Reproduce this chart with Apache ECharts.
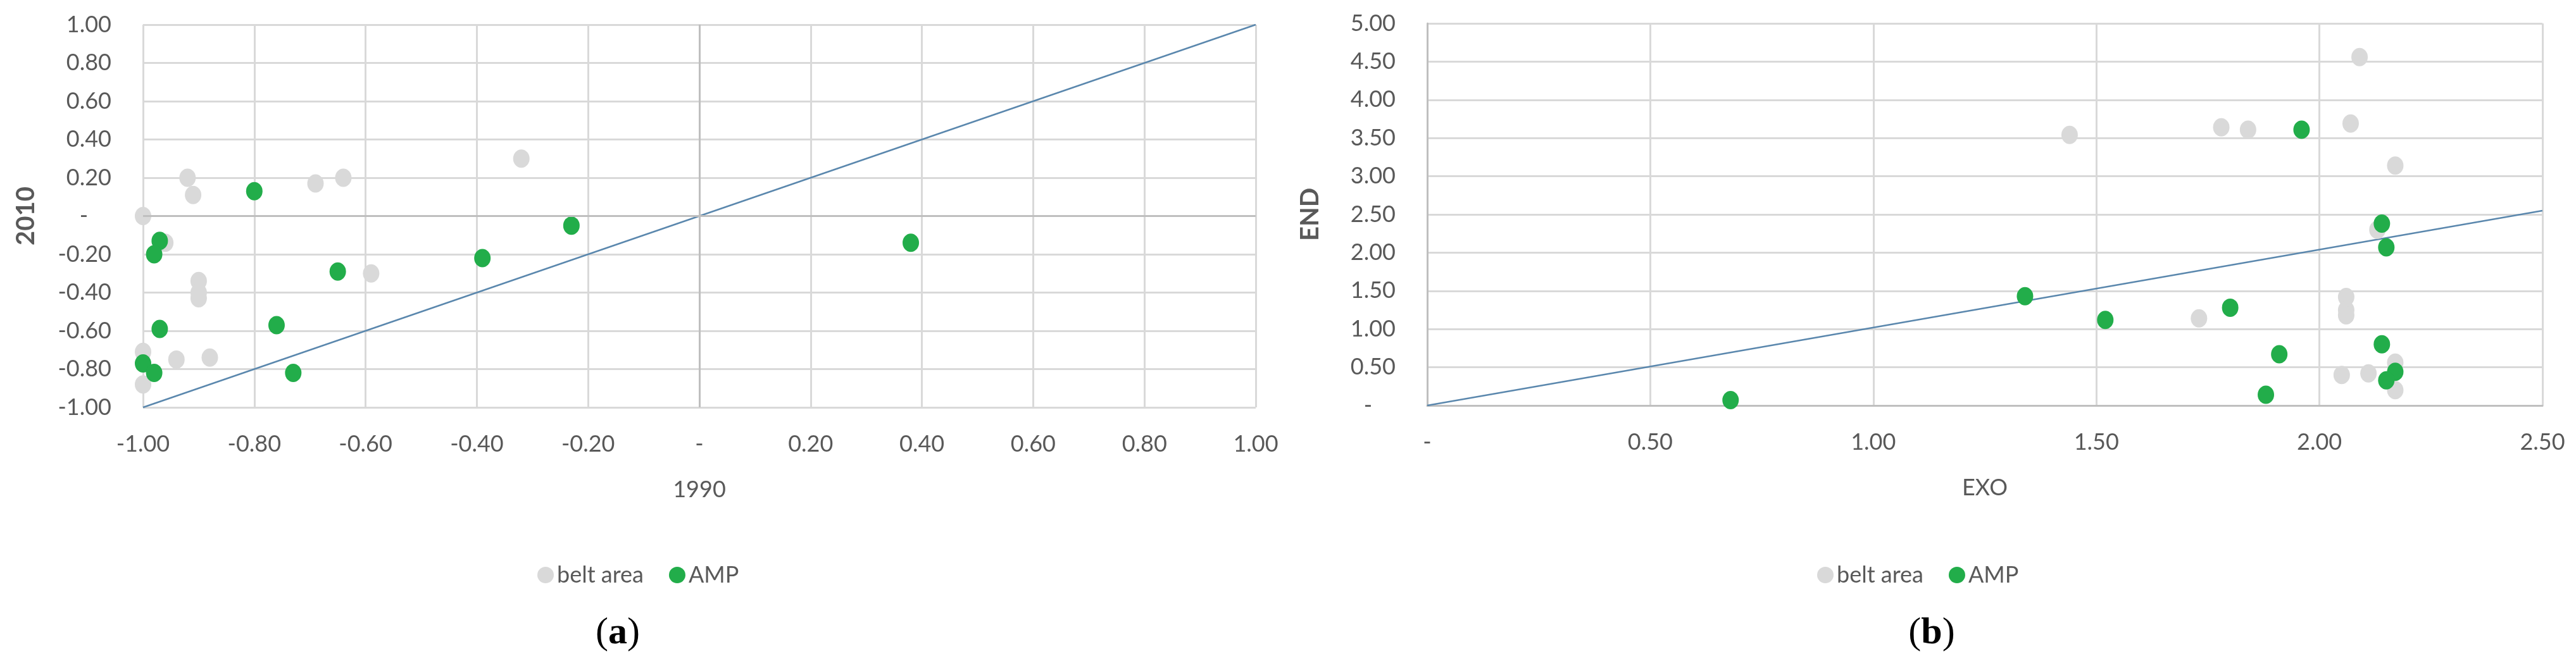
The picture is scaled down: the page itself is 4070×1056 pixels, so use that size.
<!DOCTYPE html>
<html>
<head>
<meta charset="utf-8">
<script src="https://cdn.jsdelivr.net/npm/echarts@6/dist/echarts.min.js"></script>
<style>
  html, body { margin: 0; padding: 0; background: #fff; }
  #main { width: 4070px; height: 1056px; }
</style>
</head>
<body>
<div id="main"></div>
<script>
// (a) 1990 vs 2010
var beltA_x = [-0.92, -0.91, -0.69, -0.64, -0.32, -1.00, -0.96, -0.90, -0.90, -0.90, -0.59, -0.94, -0.88, -1.00, -1.00];
var beltA_y = [0.20, 0.11, 0.17, 0.20, 0.30, 0.00, -0.14, -0.34, -0.40, -0.43, -0.30, -0.75, -0.74, -0.71, -0.88];
var ampA_x = [-0.80, -0.97, -0.98, -0.65, -0.39, -0.23, 0.38, -0.97, -0.76, -0.73, -1.00, -0.98];
var ampA_y = [0.13, -0.13, -0.20, -0.29, -0.22, -0.05, -0.14, -0.59, -0.57, -0.82, -0.77, -0.82];
var lineA_x = [-1, 1];
var lineA_y = [-1, 1];

// (b) EXO vs END
var beltB_x = [2.09, 1.44, 1.78, 1.84, 2.07, 2.17, 2.13, 2.06, 2.06, 2.06, 1.73, 2.05, 2.11, 2.17, 2.17];
var beltB_y = [4.56, 3.54, 3.64, 3.61, 3.69, 3.14, 2.30, 1.42, 1.25, 1.18, 1.14, 0.40, 0.42, 0.56, 0.20];
var ampB_x = [0.68, 1.34, 1.52, 1.80, 1.96, 1.91, 1.88, 2.14, 2.15, 2.14, 2.17, 2.15];
var ampB_y = [0.07, 1.43, 1.12, 1.28, 3.61, 0.67, 0.14, 2.38, 2.07, 0.80, 0.44, 0.33];
var lineB_x = [0, 2.5];
var lineB_y = [0, 2.55];

var legendNames = ['belt area', 'AMP'];

function pairs(xs, ys) {
  return xs.map(function (x, i) { return [x, ys[i]]; });
}

var txt = '#595959';
var font = 'Lato, "Liberation Sans", sans-serif';
var gridCol = '#d9d9d9';
var zeroCol = '#bfbfbf';
var grayDot = '#d9d9d9';
var greenDot = '#22ad4a';
var lineCol = '#5a87ad';

function fmtX(v) {
  if (Math.abs(v) < 1e-9) return '-';
  return v.toFixed(2);
}
function fmtY(v) {
  if (Math.abs(v) < 1e-9) return '-    ';
  return v.toFixed(2);
}

function xAxis(idx, min, max, step, name, axisLineOn) {
  return {
    gridIndex: idx, type: 'value', min: min, max: max, interval: step,
    name: name, nameLocation: 'middle', nameGap: 112,
    nameTextStyle: { color: txt, fontSize: 36, fontFamily: font },
    axisLine: { show: axisLineOn, lineStyle: { color: zeroCol, width: 3 } },
    axisTick: { show: false },
    axisLabel: { color: txt, fontSize: 36, fontFamily: font, margin: 40, formatter: fmtX },
    splitLine: { show: true, lineStyle: { color: gridCol, width: 3 } }
  };
}
function yAxis(idx, min, max, step, name, axisLineOn, gap) {
  return {
    gridIndex: idx, type: 'value', min: min, max: max, interval: step,
    name: name, nameLocation: 'middle', nameGap: gap,
    nameTextStyle: { color: txt, fontSize: 40, fontWeight: 'bold', fontFamily: font },
    axisLine: { show: axisLineOn, lineStyle: { color: zeroCol, width: 3 } },
    axisTick: { show: false },
    axisLabel: { color: txt, fontSize: 36, fontFamily: font, margin: 50, formatter: fmtY },
    splitLine: { show: true, lineStyle: { color: gridCol, width: 3 } }
  };
}

function dots(name, idx, xs, ys, color) {
  return {
    name: name, type: 'scatter', xAxisIndex: idx, yAxisIndex: idx,
    symbolSize: [26, 29], data: pairs(xs, ys),
    itemStyle: { color: color, opacity: 1 }, z: 4
  };
}

var chart = echarts.init(document.getElementById('main'));

var option = {
  backgroundColor: '#fff',
  animation: false,
  title: [
    { text: '({b|a})', left: 971, top: 966, textAlign: 'center',
      textStyle: { fontFamily: '"Liberation Serif", serif', fontSize: 60, fontWeight: 'normal', color: '#000',
        rich: { b: { fontFamily: '"Liberation Serif", serif', fontSize: 60, fontWeight: 'bold', color: '#000' } } } },
    { text: '({b|b})', left: 3047, top: 966, textAlign: 'center',
      textStyle: { fontFamily: '"Liberation Serif", serif', fontSize: 60, fontWeight: 'normal', color: '#000',
        rich: { b: { fontFamily: '"Liberation Serif", serif', fontSize: 60, fontWeight: 'bold', color: '#000' } } } }
  ],
  legend: [
    { data: legendNames, left: 844, top: 886, icon: 'circle', itemWidth: 26, itemHeight: 26, itemGap: 40,
      textStyle: { color: txt, fontSize: 36, fontFamily: font } },
    { data: legendNames, left: 2866, top: 886, icon: 'circle', itemWidth: 26, itemHeight: 26, itemGap: 40,
      textStyle: { color: txt, fontSize: 36, fontFamily: font } }
  ],
  grid: [
    { left: 226, top: 39, width: 1758, height: 605 },
    { left: 2255, top: 37, width: 1762, height: 604 }
  ],
  xAxis: [
    xAxis(0, -1, 1, 0.2, '1990', false),
    xAxis(1, 0, 2.5, 0.5, 'EXO', true)
  ],
  yAxis: [
    yAxis(0, -1, 1, 0.2, '2010', false, 165),
    yAxis(1, 0, 5, 0.5, 'END', true, 165)
  ],
  series: [
    {
      name: 'ref a', type: 'line', xAxisIndex: 0, yAxisIndex: 0,
      data: pairs(lineA_x, lineA_y), showSymbol: false, silent: true, z: 3,
      lineStyle: { color: lineCol, width: 2.5 },
      markLine: {
        silent: true, symbol: 'none', label: { show: false },
        lineStyle: { color: zeroCol, width: 3, type: 'solid' },
        data: [{ xAxis: 0 }, { yAxis: 0 }]
      }
    },
    dots('belt area', 0, beltA_x, beltA_y, grayDot),
    dots('AMP', 0, ampA_x, ampA_y, greenDot),
    {
      name: 'ref b', type: 'line', xAxisIndex: 1, yAxisIndex: 1,
      data: pairs(lineB_x, lineB_y), showSymbol: false, silent: true, z: 3,
      lineStyle: { color: lineCol, width: 2.5 }
    },
    dots('belt area', 1, beltB_x, beltB_y, grayDot),
    dots('AMP', 1, ampB_x, ampB_y, greenDot)
  ]
};

chart.setOption(option);
</script>
</body>
</html>
